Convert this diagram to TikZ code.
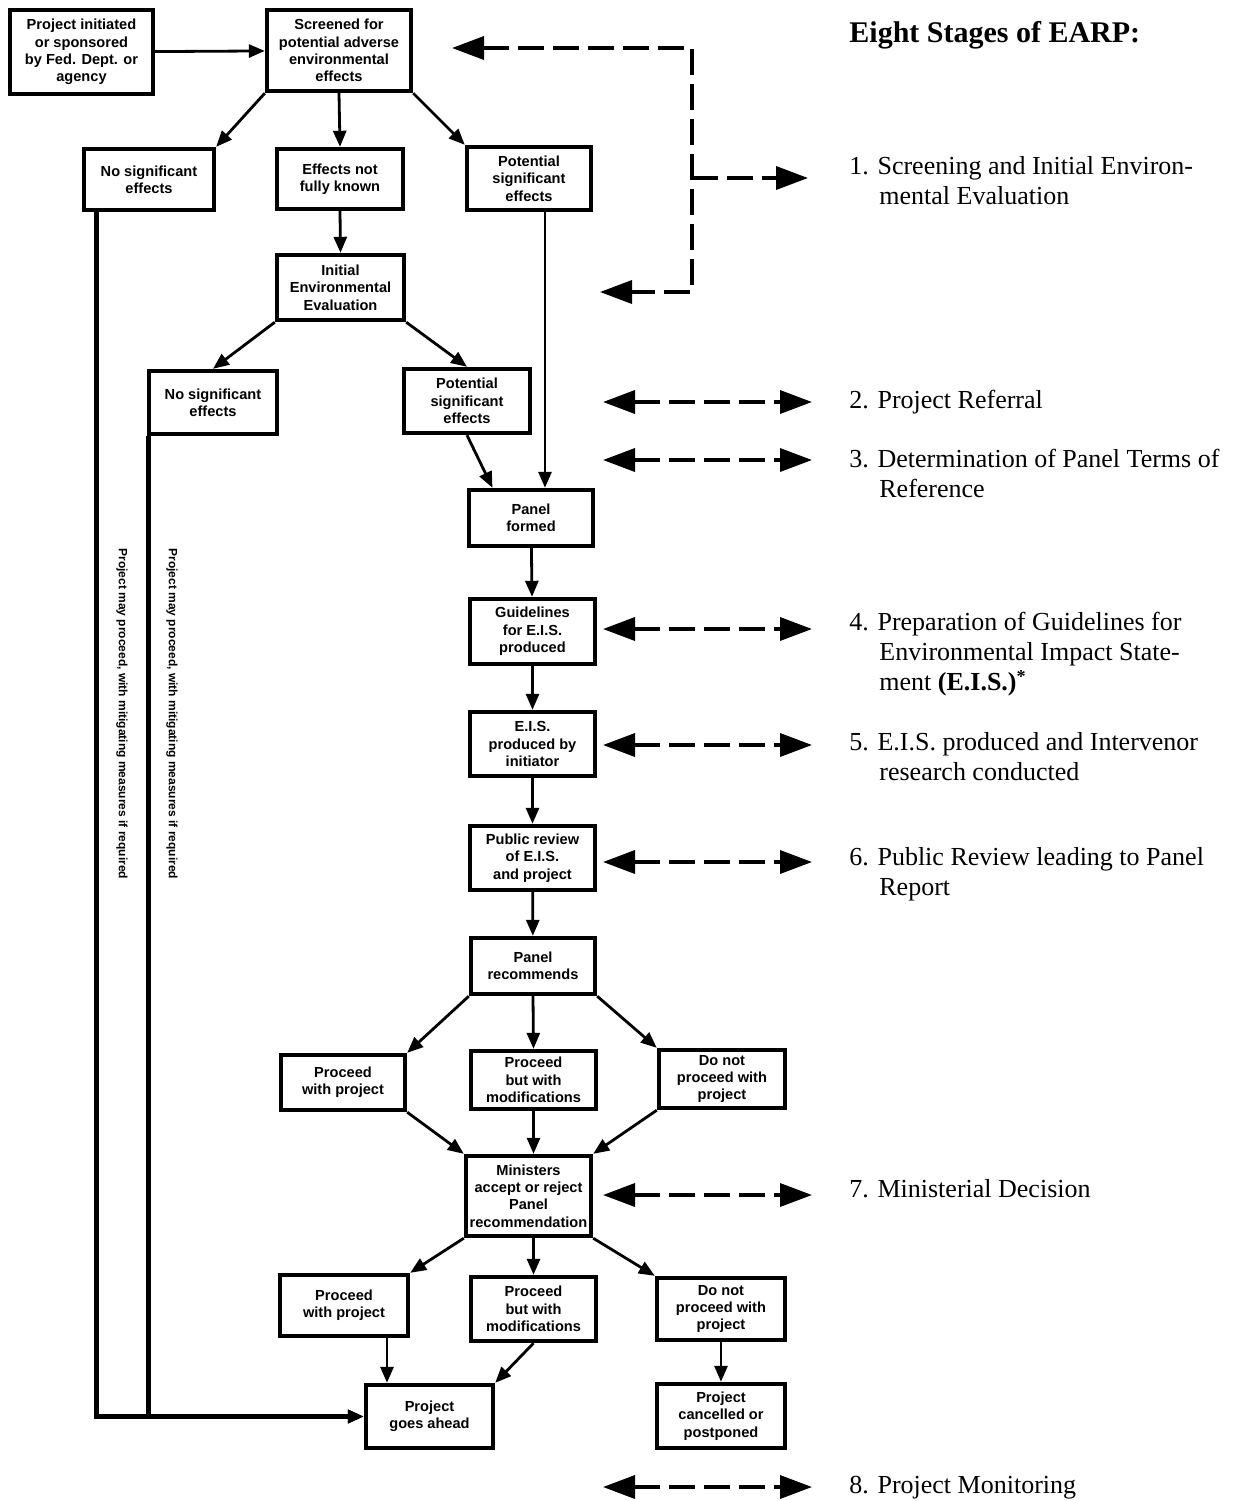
\documentclass[tikz,border=0pt]{standalone}
\usepackage{fontspec}
\setmainfont{Liberation Serif}
\newfontfamily\boxsans{Liberation Sans}
\usetikzlibrary{arrows.meta,calc}
\tikzset{
  box/.style 2 args={draw,line width=2.2pt,fill=white,align=center,inner sep=1pt,
    minimum width=#1*0.5pt,minimum height=#2*0.5pt,
    font=\boxsans\bfseries\fontsize{7.3}{8.7}\selectfont},
  flow/.style={line width=1.4pt,-{Triangle[length=8pt,width=6.5pt]}},
  stage/.style={line width=1.8pt,dash pattern=on 13pt off 4.5pt},
  stagetips/.style={{Triangle[length=16pt,width=11.5pt]}-{Triangle[length=16pt,width=11.5pt]}},
  stagetext/.style={anchor=north west,align=left,inner sep=0pt,font=\fontsize{13}{15}\selectfont},
  note/.style={rotate=-90,anchor=west,inner sep=0pt,font=\boxsans\bfseries\fontsize{6}{7}\selectfont}
}
\begin{document}
\begin{tikzpicture}[x=0.5pt,y=-0.5pt]
  \useasboundingbox (0,0) rectangle (1245,1501);
  % flow chart boxes
  \node[box={143}{84}] (init)    at (81.5,52)    {Project initiated\\or sponsored\\by Fed. Dept. or\\agency};
  \node[box={144}{81}] (screen)  at (339,50.5)   {Screened for\\potential adverse\\environmental\\effects};
  \node[box={130}{61}] (nosig1)  at (149,179.5)  {No significant\\effects};
  \node[box={126}{60}] (unknown) at (340,179)    {Effects not\\fully known};
  \node[box={124}{63}] (potsig1) at (529,178.5)  {Potential\\significant\\effects};
  \node[box={127}{65}] (iee)     at (340.5,287.5){Initial\\Environmental\\Evaluation};
  \node[box={128}{63}] (nosig2)  at (213,402.5)  {No significant\\effects};
  \node[box={126}{64}] (potsig2) at (467,401)    {Potential\\significant\\effects};
  \node[box={124}{56}] (formed)  at (531,518)    {Panel\\formed};
  \node[box={125}{65}] (guide)   at (532.5,631.5){Guidelines\\for E.I.S.\\produced};
  \node[box={125}{64}] (eis)     at (532.5,744)  {E.I.S.\\produced by\\initiator};
  \node[box={125}{64}] (review)  at (532.5,858)  {Public review\\of E.I.S.\\and project};
  \node[box={124}{56}] (recom)   at (533,966)    {Panel\\recommends};
  \node[box={124}{55}] (p1)      at (343,1082.5) {Proceed\\with project};
  \node[box={125}{58}] (m1)      at (533.5,1080) {Proceed\\but with\\modifications};
  \node[box={126}{58}] (n1)      at (722,1079)   {Do not\\proceed with\\project};
  \node[box={125}{80}] (minis)   at (528.5,1196) {Ministers\\accept or reject\\Panel\\recommendation};
  \node[box={128}{61}] (p2)      at (344,1305.5) {Proceed\\with project};
  \node[box={125}{64}] (m2)      at (533.5,1309) {Proceed\\but with\\modifications};
  \node[box={128}{62}] (n2)      at (721,1309)   {Do not\\proceed with\\project};
  \node[box={127}{63}] (ahead)   at (429.5,1416.5){Project\\goes ahead};
  \node[box={128}{64}] (cancel)  at (721,1416)   {Project\\cancelled or\\postponed};

  \node[note] (note1) at (122,548) {Project may proceed, with mitigating measures if required};
  \node[note] (note2) at (172,548) {Project may proceed, with mitigating measures if required};

  \coordinate (d1) at ($(nosig1.south west)+(15,0)$);
  \coordinate (d2) at ($(nosig2.south west)+(2,0)$);
  \coordinate (pdrop) at ($(potsig1.south)+(16,0)$);
  \coordinate (pdown) at ($(p2.south)+(43,0)$);
  \coordinate (fin) at ($(formed.north west)!0.2!(formed.north east)$);

  \path[flow]
    (init) edge (screen)
    (screen.south west) edge (nosig1.north east)
    (screen.south) edge (unknown.north)
    (screen.south east) edge (potsig1.north west)
    (unknown.south) edge (iee.north)
    (iee.south west) edge (nosig2.north)
    (iee.south east) edge (potsig2.north)
    (potsig2.south) edge (fin)
    (pdrop) edge (pdrop |- formed.north)
    (formed) edge (guide)
    (guide) edge (eis)
    (eis) edge (review)
    (review) edge (recom)
    (recom.south west) edge (p1.north east)
    (recom.south) edge (m1.north)
    (recom.south east) edge (n1.north west)
    (p1.south east) edge (minis.north west)
    (m1.south) edge (m1.south |- minis.north)
    (n1.south west) edge (minis.north east)
    (minis.south west) edge (p2.north east)
    (m2.north |- minis.south) edge (m2.north)
    (minis.south east) edge (n2.north west)
    (pdown) edge (pdown |- ahead.north)
    (m2.south) edge (ahead.north east)
    (n2) edge (cancel);
  \draw[flow,line width=2.5pt] (d1) |- (ahead.west);
  \draw[flow,line width=2.5pt] (d2) |- (ahead.west);

  % the eight stages
  \node[anchor=west,inner sep=0pt,font=\bfseries\fontsize{15}{18}\selectfont] (title) at (849,35) {Eight Stages of EARP:};
  \node[stagetext] (st1) at (849,156) {1. Screening and Initial Environ-\\\hspace*{15pt}mental Evaluation};
  \node[stagetext] (st2) at (849,390) {2. Project Referral};
  \node[stagetext] (st3) at (849,449) {3. Determination of Panel Terms of\\\hspace*{15pt}Reference};
  \node[stagetext] (st4) at (849,612) {4. Preparation of Guidelines for\\\hspace*{15pt}Environmental Impact State-\\\hspace*{15pt}ment \textbf{(E.I.S.)\textsuperscript{*}}};
  \node[stagetext] (st5) at (849,732) {5. E.I.S. produced and Intervenor\\\hspace*{15pt}research conducted};
  \node[stagetext] (st6) at (849,847) {6. Public Review leading to Panel\\\hspace*{15pt}Report};
  \node[stagetext] (st7) at (849,1179) {7. Ministerial Decision};
  \node[stagetext] (st8) at (849,1476) {8. Project Monitoring};

  \coordinate (bt) at (692,48);
  \coordinate (bb) at (692,292);
  \coordinate (bm) at (692,178);
  \coordinate (btip) at (452,48);
  \coordinate (bbtip) at (600,292);
  \coordinate (bmtip) at (808,178);
  \draw[stage,stagetips] (btip) -- (bt) -- (bb) -- (bbtip);
  \draw[stage,-{Triangle[length=16pt,width=11.5pt]}] (bm) -- (bmtip);

  \foreach \n/\y in {2/402,3/460,4/629,5/745,6/862,7/1195,8/1487}{
    \coordinate (sl\n) at (603,\y);
    \coordinate (sr\n) at (812,\y);
    \draw[stage,stagetips] (sl\n) -- (sr\n);
  }
\end{tikzpicture}
\end{document}
